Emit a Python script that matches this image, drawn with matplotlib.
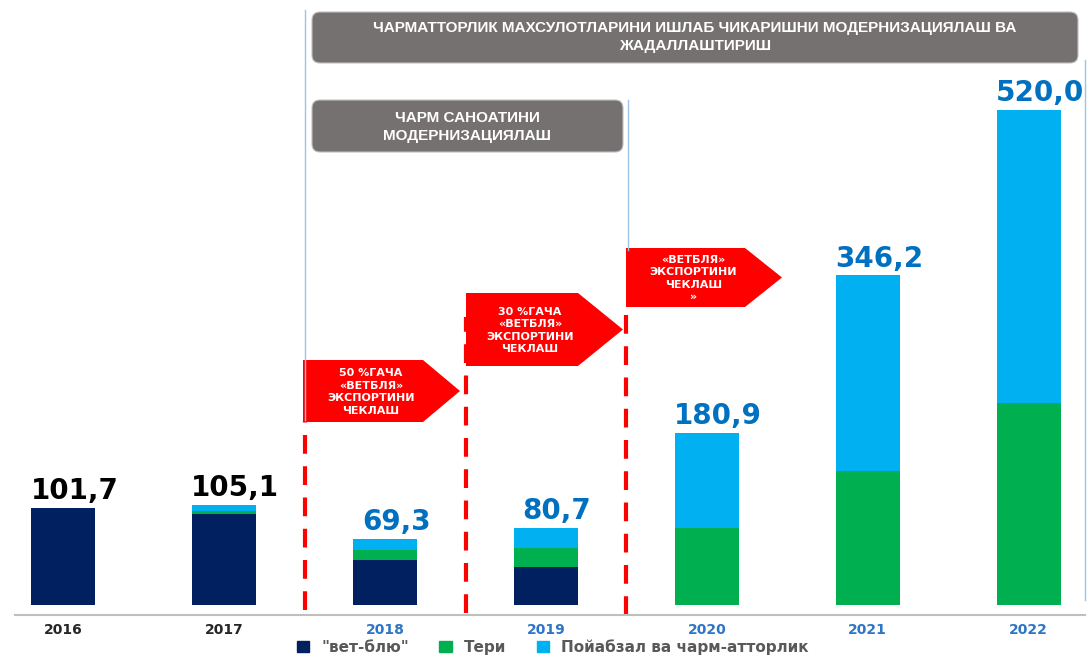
import matplotlib.pyplot as plt
from matplotlib.patches import Polygon, FancyBboxPatch, Patch
import numpy as np

# data
years = ['2016', '2017', '2018', '2019', '2020', '2021', '2022']
vet_blyu = [101.7, 95.5, 47.5, 39.6, 0, 0, 0]
teri = [0, 3.3, 10.5, 20.0, 81.2, 141.1, 212.5]
poyabzal = [0, 6.3, 11.3, 21.1, 99.7, 205.1, 307.5]
total_labels = ['101,7', '105,1', '69,3', '80,7', '180,9', '346,2', '520,0']
label_colors = ['black', 'black', '#0070C0', '#0070C0', '#0070C0', '#0070C0', '#0070C0']
year_colors = ['#262626', '#262626', '#2E75C6', '#2E75C6', '#2E75C6', '#2E75C6', '#2E75C6']
legend_labels = ['"вет-блю"', 'Тери', 'Пойабзал ва чарм-атторлик']

NAVY = '#002060'
GREEN = '#00B050'
LBLUE = '#00B0F0'
RED = '#FF0000'
GREY = '#767171'

narrow = ['Liberation Sans Narrow', 'Liberation Sans', 'DejaVu Sans']

fig = plt.figure(figsize=(10.88, 6.56), dpi=100)
ax = fig.add_axes([15 / 1088, 41 / 656, 1070 / 1088, 615 / 656])

x = np.arange(len(years))
w = 0.4
bottom2 = np.array(vet_blyu)
bottom3 = bottom2 + np.array(teri)
ax.bar(x, vet_blyu, w, color=NAVY, zorder=2)
ax.bar(x, teri, w, bottom=bottom2, color=GREEN, zorder=2)
ax.bar(x, poyabzal, w, bottom=bottom3, color=LBLUE, zorder=2)

totals = bottom3 + np.array(poyabzal)
for i in range(len(years)):
    ax.annotate(total_labels[i], (x[i], totals[i]), xytext=(8, 2),
                textcoords='offset points', ha='center', va='bottom',
                fontsize=20, fontweight='heavy', color=label_colors[i],
                annotation_clip=False)

ax.set_xlim(-0.3, 6.35)
ax.set_ylim(-10.5, 635.5)
for s in ['top', 'right', 'left']:
    ax.spines[s].set_visible(False)
ax.spines['bottom'].set_color('#BFBFBF')
ax.spines['bottom'].set_linewidth(1.5)
ax.set_yticks([])
ax.set_xticks(x)
ax.set_xticklabels(years, fontsize=10, fontweight='bold')
for lbl, c in zip(ax.get_xticklabels(), year_colors):
    lbl.set_color(c)
ax.tick_params(axis='x', length=0, pad=6)
ax.patch.set_alpha(0)

# red dashed separators
ax.plot([1.5, 1.5], [-5, 194], color=RED, lw=3, ls=(0, (4.5, 3)), zorder=1)
ax.plot([2.5, 2.5], [-8, 303], color=RED, lw=3, ls=(0, (4.5, 3)), zorder=1)
ax.plot([3.5, 3.5], [-10, 310], color=RED, lw=3, ls=(0, (4.5, 3)), zorder=1)

# overlay in pixel coordinates for the annotations
ov = fig.add_axes([0, 0, 1, 1])
ov.set_xlim(0, 1088)
ov.set_ylim(656, 0)
ov.axis('off')
ov.patch.set_alpha(0)

# thin bracket lines
ov.plot([305, 305], [10, 420], color='#9DC3E6', lw=1)
ov.plot([628, 628], [100, 250], color='#9DC3E6', lw=1)
ov.plot([1085, 1085], [60, 600], color='#9DC3E6', lw=1)

# grey headers
ov.add_patch(FancyBboxPatch((312, 12), 766, 51, boxstyle='round,pad=0,rounding_size=8',
                            fc=GREY, ec='#BFBFBF', lw=0.8))
ov.text(695, 37, 'ЧАРМАТТОРЛИК МАХСУЛОТЛАРИНИ ИШЛАБ ЧИКАРИШНИ МОДЕРНИЗАЦИЯЛАШ ВА\nЖАДАЛЛАШТИРИШ',
        ha='center', va='center', color='white', fontsize=11, fontweight='bold',
        family=narrow, linespacing=1.3)
ov.add_patch(FancyBboxPatch((312, 100), 311, 52, boxstyle='round,pad=0,rounding_size=8',
                            fc=GREY, ec='#BFBFBF', lw=0.8))
ov.text(467, 127, 'ЧАРМ САНОАТИНИ\nМОДЕРНИЗАЦИЯЛАШ',
        ha='center', va='center', color='white', fontsize=11, fontweight='bold',
        family=narrow, linespacing=1.3)

# red arrows
arrows = [
    (303, 423, 460, 360, 422, '50 %ГАЧА\n«ВЕТБЛЯ»\nЭКСПОРТИНИ\nЧЕКЛАШ'),
    (466, 578, 623, 293, 366, '30 %ГАЧА\n«ВЕТБЛЯ»\nЭКСПОРТИНИ\nЧЕКЛАШ'),
    (626, 745, 782, 248, 307, '«ВЕТБЛЯ»\nЭКСПОРТИНИ\nЧЕКЛАШ\n»'),
]
for x0, x1, x2, y0, y1, txt in arrows:
    ym = (y0 + y1) / 2
    ov.add_patch(Polygon([(x0, y0), (x1, y0), (x2, ym), (x1, y1), (x0, y1)],
                         closed=True, fc=RED, ec='none'))
    ov.text((x0 + x1) / 2 + 8, ym + 1, txt, ha='center', va='center', color='white',
            fontsize=8, fontweight='bold', linespacing=1.3)

handles = [Patch(color=NAVY), Patch(color=GREEN), Patch(color=LBLUE)]
fig.legend(handles, legend_labels, loc='center', bbox_to_anchor=(0.508, 0.014), ncol=3,
           frameon=False, handlelength=0.8, handleheight=0.8, handletextpad=0.8,
           columnspacing=2.0, prop={'size': 11, 'weight': 'bold'}, labelcolor='#595959')

fig.savefig('out.png', dpi=100)
